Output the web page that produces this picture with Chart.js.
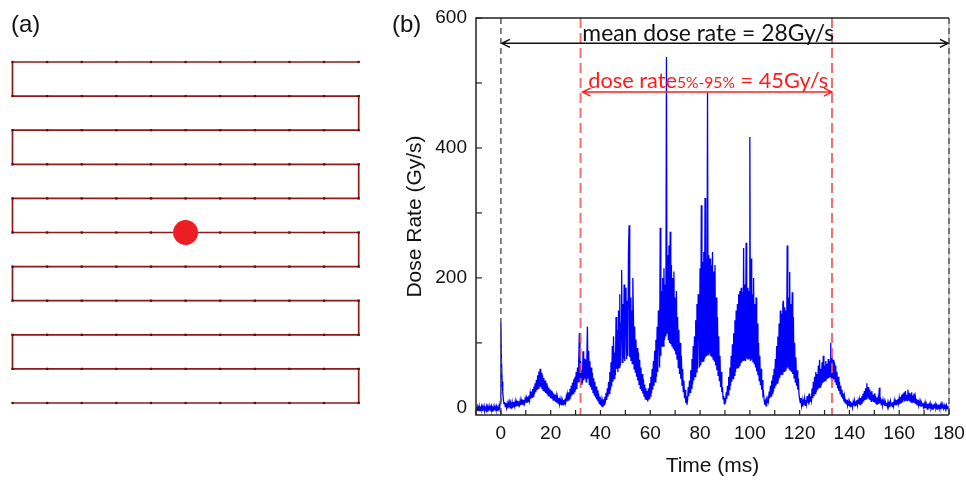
<!DOCTYPE html>
<html>
<head>
<meta charset="utf-8">
<script src="https://cdn.jsdelivr.net/npm/chart.js@4.4.1/dist/chart.umd.min.js"></script>
<style>
  html, body { margin: 0; padding: 0; background: #fff; }
  body { width: 966px; height: 481px; position: relative; overflow: hidden; font-family: "Liberation Sans", Arial, sans-serif; }
  .panel-tag { position: absolute; font-size: 24px; line-height: 1; color: #111; z-index: 2; }
  #scanBox { position: absolute; left: 0; top: 0; width: 390px; height: 481px; }
  #doseBox { position: absolute; left: 390px; top: 0; width: 576px; height: 481px; }
</style>
</head>
<body>
<div id="scanBox"><canvas id="scanChart" width="390" height="481"></canvas></div>
<div id="doseBox"><canvas id="doseChart" width="576" height="481"></canvas></div>
<div class="panel-tag" style="left:11px;top:12px">(a)</div>
<div class="panel-tag" style="left:392px;top:12px">(b)</div>
<script>
// --- panel (a): raster scan grid ---
const scanColumns = [0, 1, 2, 3, 4, 5, 6, 7, 8, 9, 10];
const scanRows = [0, 1, 2, 3, 4, 5, 6, 7, 8, 9, 10];
const beamSpot = [{ x: 5, y: 5 }];

// --- panel (b): dose rate trace, one sample every 0.25 ms from -10 ms ---
const sampleStartMs = -10;
const sampleStepMs = 0.25;
const doseRate = [
    -3, 2, -4, 1, -2, 3, -5, 0, -3, 2, -4, 1, -2, 3, -4, 0, -3, 2, -5, 1,
    -2, 3, -4, 1, -3, 2, -5, 0, -2, 3, -4, 1, -3, 2, -4, 0, -2, 3, -1, 10,
    131, 70, 40, 25, 12, 6, 9, 2, 7, 0, 6, -1, 7, 1, 8, 0, 6, 2, 9, 1,
    2, 9, 3, 10, 2, 9, 4, 11, 3, 10, 5, 12, 4, 11, 6, 13, 5, 12, 7, 14,
    8, 15, 9, 17, 10, 19, 12, 22, 14, 25, 16, 29, 18, 33, 21, 38, 24, 43, 27, 50,
    30, 56, 33, 60, 32, 54, 29, 50, 27, 46, 25, 42, 23, 38, 21, 34, 19, 31, 17, 28,
    15, 26, 14, 24, 12, 22, 11, 20, 9, 18, 8, 16, 7, 15, 6, 13, 5, 12, 4, 11,
    5, 12, 6, 14, 8, 17, 10, 20, 12, 24, 14, 29, 16, 34, 19, 39, 22, 44, 25, 48,
    27, 55, 29, 62, 40, 70, 115, 40, 72, 36, 58, 38, 87, 42, 76, 45, 74, 40, 70, 125,
    46, 88, 36, 72, 32, 62, 28, 54, 24, 46, 20, 40, 16, 33, 13, 27, 10, 22, 7, 17,
    4, 12, 2, 10, 1, 13, 5, 17, 8, 23, 12, 30, 17, 40, 22, 55, 27, 70, 33, 95,
    40, 110, 45, 85, 50, 140, 60, 120, 55, 150, 62, 175, 65, 130, 212, 70, 160, 75, 190, 72,
    150, 185, 75, 165, 80, 240, 281, 78, 170, 72, 150, 68, 200, 140, 60, 125, 55, 105, 48, 92,
    42, 85, 36, 74, 30, 62, 26, 52, 22, 44, 18, 36, 14, 30, 12, 26, 10, 30, 14, 38,
    18, 48, 22, 60, 28, 72, 34, 88, 40, 105, 48, 125, 55, 150, 131, 62, 277, 80, 180, 95,
    200, 95, 215, 105, 190, 110, 540, 115, 235, 105, 250, 100, 271, 98, 220, 95, 200, 92, 210, 88,
    170, 82, 180, 75, 140, 62, 120, 52, 100, 45, 80, 35, 60, 25, 42, 15, 28, 8, 18, 5,
    12, 32, 18, 42, 24, 58, 30, 75, 36, 95, 42, 110, 48, 135, 55, 160, 60, 175, 146, 62,
    215, 65, 312, 70, 225, 72, 240, 75, 323, 78, 230, 80, 485, 82, 235, 84, 230, 80, 220, 78,
    240, 75, 210, 72, 220, 65, 170, 58, 140, 50, 110, 42, 80, 32, 55, 24, 32, 14, 18, 6,
    15, 8, 24, 14, 34, 20, 48, 28, 62, 34, 80, 40, 98, 45, 115, 50, 135, 55, 150, 60,
    160, 62, 175, 65, 180, 68, 185, 70, 178, 72, 246, 74, 190, 72, 254, 76, 185, 74, 180, 76,
    417, 72, 230, 74, 175, 70, 200, 68, 160, 62, 170, 56, 130, 50, 100, 42, 80, 35, 60, 28,
    43, 20, 23, 12, 5, 10, 3, 12, 8, 18, 12, 25, 15, 34, 18, 42, 22, 50, 25, 60,
    30, 75, 34, 95, 38, 110, 42, 130, 46, 150, 50, 145, 52, 160, 165, 56, 155, 58, 150, 60,
    250, 62, 170, 60, 209, 58, 160, 55, 178, 52, 140, 46, 100, 40, 78, 34, 58, 28, 45, 20,
    20, 8, 15, 4, 12, 2, 10, 5, 14, 4, 12, 6, 18, 8, 15, 5, 22, 10, 18, 12,
    30, 15, 40, 18, 48, 22, 55, 25, 52, 28, 65, 30, 74, 32, 60, 35, 70, 38, 80, 40,
    65, 42, 72, 44, 68, 45, 75, 46, 72, 48, 100, 45, 80, 42, 74, 44, 70, 40, 65, 36,
    55, 30, 48, 26, 40, 22, 34, 18, 28, 14, 22, 10, 18, 8, 14, 6, 12, 4, 10, 3,
    9, 2, 10, 3, 8, 1, 9, 4, 11, 3, 10, 5, 12, 4, 11, 6, 13, 5, 15, 7,
    18, 8, 22, 10, 26, 12, 30, 14, 38, 16, 32, 14, 28, 12, 24, 10, 26, 11, 20, 9,
    22, 8, 18, 6, 16, 5, 14, 6, 31, 7, 16, 5, 13, 4, 12, 5, 10, 3, 9, 4,
    8, 2, 9, 3, 7, 1, 10, 4, 8, 2, 9, 3, 11, 4, 10, 5, 12, 6, 14, 7,
    15, 6, 17, 8, 20, 10, 22, 12, 24, 10, 26, 12, 20, 11, 28, 12, 23, 10, 21, 9,
    24, 9, 19, 8, 22, 7, 16, 6, 14, 5, 12, 4, 10, 3, 9, 2, 8, 3, 7, 1,
    6, -1, 7, 0, 5, -2, 6, 1, 5, -1, 6, 0, 4, -2, 5, 0, 4, -1, 5, 0,
    4, -2, 5, 0, 3, -1, 4, -2, 5, 0, 3, -1, 4, -2, 3, 0, 4, -1, 3, -2,
    2
];

const xTickValues = [-10, 0, 10, 20, 30, 40, 50, 60, 70, 80, 90, 100, 110, 120, 130, 140, 150, 160, 170, 180];
const xLabelValues = [0, 20, 40, 60, 80, 100, 120, 140, 160, 180];
const yTickValues = [0, 100, 200, 300, 400, 500, 600];
const yLabelValues = [0, 200, 400, 600];

const referenceTimes = [0, 180];   // irradiation start / end
const windowTimes = [32, 133];     // 5%-95% dose window
const meanLabel = 'mean dose rate = 28Gy/s';
const windowLabel = ['dose rate', '5%-95%', ' = 45Gy/s'];

// serpentine path: even rows right->left, odd rows left->right
const scanPath = scanRows.flatMap((r, i) => {
    const cols = i % 2 === 0 ? [...scanColumns].reverse() : scanColumns;
    return cols.map(c => ({ x: c, y: r }));
});

new Chart(document.getElementById('scanChart'), {
    type: 'scatter',
    data: {
        datasets: [
            { data: beamSpot, pointRadius: 12.5, pointBackgroundColor: '#ee1d23', pointBorderWidth: 0, order: 0, clip: false },
            {
                data: scanPath, showLine: true, borderColor: '#8e1b1b', borderWidth: 1.7,
                pointStyle: 'rect', pointRadius: 1.6, pointBackgroundColor: '#5e0b0b', pointBorderWidth: 0,
                order: 1, clip: false
            }
        ]
    },
    options: {
        responsive: false, devicePixelRatio: 1, animation: false, events: [],
        layout: { padding: { left: 10.7, right: 31.3, top: 62, bottom: 78 } },
        plugins: { legend: { display: false }, tooltip: { enabled: false } },
        scales: {
            x: { type: 'linear', display: false, min: 0, max: 10 },
            y: { type: 'linear', display: false, min: 0, max: 10, reverse: true }
        }
    }
});

// --- helpers for panel (b) decorations ---
function fitSize(ctx, text, family, target) {
    ctx.font = `100px ${family}`;
    return 100 * target / ctx.measureText(text).width;
}

function drawArrow(ctx, x1, x2, y, color) {
    ctx.save();
    ctx.strokeStyle = color;
    ctx.lineWidth = 1.5;
    ctx.setLineDash([]);
    ctx.beginPath();
    ctx.moveTo(x1, y); ctx.lineTo(x2, y);
    ctx.moveTo(x1 + 8, y - 4); ctx.lineTo(x1, y); ctx.lineTo(x1 + 8, y + 4);
    ctx.moveTo(x2 - 8, y - 4); ctx.lineTo(x2, y); ctx.lineTo(x2 - 8, y + 4);
    ctx.stroke();
    ctx.restore();
}

const doseDecor = {
    id: 'doseDecor',
    afterDatasetsDraw(chart) {
        const { ctx, chartArea: a, scales: { x, y } } = chart;
        ctx.save();

        // right edge under the dashed end marker
        ctx.strokeStyle = '#999';
        ctx.lineWidth = 1;
        ctx.beginPath(); ctx.moveTo(a.right, a.top); ctx.lineTo(a.right, a.bottom); ctx.stroke();

        // dashed markers
        ctx.lineWidth = 1.5;
        ctx.strokeStyle = '#5a5a5a';
        ctx.setLineDash([6, 4]);
        referenceTimes.forEach(t => {
            const px = x.getPixelForValue(t);
            ctx.beginPath(); ctx.moveTo(px, a.top); ctx.lineTo(px, a.bottom); ctx.stroke();
        });
        ctx.lineWidth = 2;
        ctx.strokeStyle = 'rgba(245,85,85,0.85)';
        ctx.setLineDash([10, 5]);
        windowTimes.forEach(t => {
            const px = x.getPixelForValue(t);
            ctx.beginPath(); ctx.moveTo(px, a.top); ctx.lineTo(px, a.bottom); ctx.stroke();
        });
        ctx.setLineDash([]);

        // frame
        ctx.strokeStyle = '#222';
        ctx.lineWidth = 1.5;
        ctx.beginPath();
        ctx.moveTo(a.right, a.top); ctx.lineTo(a.left, a.top);
        ctx.lineTo(a.left, a.bottom); ctx.lineTo(a.right, a.bottom);
        ctx.stroke();

        // inward ticks
        ctx.lineWidth = 1.2;
        yTickValues.forEach(v => {
            const py = y.getPixelForValue(v);
            ctx.beginPath(); ctx.moveTo(a.left, py); ctx.lineTo(a.left + 6, py); ctx.stroke();
        });
        xTickValues.forEach(v => {
            const px = x.getPixelForValue(v);
            ctx.beginPath(); ctx.moveTo(px, a.bottom); ctx.lineTo(px, a.bottom - 5); ctx.stroke();
        });

        // mean dose rate arrow + label
        const meanY = y.getPixelForValue(561);
        drawArrow(ctx, x.getPixelForValue(referenceTimes[0]) + 1, x.getPixelForValue(referenceTimes[1]) - 1, meanY, '#111');
        const fam = 'Lato, "Open Sans", sans-serif';
        const centerX = x.getPixelForValue(83.3);
        ctx.fillStyle = '#111';
        ctx.textAlign = 'center';
        ctx.textBaseline = 'alphabetic';
        ctx.font = `${fitSize(ctx, meanLabel, fam, 252)}px ${fam}`;
        ctx.fillText(meanLabel, centerX, meanY - 2.5);

        // 5%-95% window arrow + label
        const winY = y.getPixelForValue(486);
        drawArrow(ctx, x.getPixelForValue(windowTimes[0]) + 2, x.getPixelForValue(windowTimes[1]), winY, '#ff1f1f');
        const mainSize = fitSize(ctx, windowLabel[0] + windowLabel[2], fam, 182);
        const subSize = fitSize(ctx, windowLabel[1], fam, 58);
        ctx.font = `${mainSize}px ${fam}`;
        const w0 = ctx.measureText(windowLabel[0]).width;
        const w2 = ctx.measureText(windowLabel[2]).width;
        ctx.font = `${subSize}px ${fam}`;
        const w1 = ctx.measureText(windowLabel[1]).width;
        let tx = centerX - (w0 + w1 + w2) / 2;
        const base = winY - 4;
        ctx.textAlign = 'left';
        ctx.fillStyle = '#ff1a1a';
        ctx.font = `${mainSize}px ${fam}`;
        ctx.fillText(windowLabel[0], tx, base);
        tx += w0;
        ctx.font = `${subSize}px ${fam}`;
        ctx.fillText(windowLabel[1], tx, base);
        tx += w1;
        ctx.font = `${mainSize}px ${fam}`;
        ctx.fillText(windowLabel[2], tx, base);

        ctx.restore();
    }
};

const dosePoints = doseRate.map((v, i) => ({ x: sampleStartMs + i * sampleStepMs, y: v }));

new Chart(document.getElementById('doseChart'), {
    type: 'line',
    data: {
        datasets: [{
            label: 'Dose Rate',
            data: dosePoints,
            borderColor: '#0000ff',
            borderWidth: 1.3,
            pointRadius: 0,
            tension: 0,
            fill: false
        }]
    },
    options: {
        responsive: false, devicePixelRatio: 1, animation: false, events: [],
        layout: { padding: { left: 0, top: 18, right: 17, bottom: 0 } },
        plugins: { legend: { display: false }, tooltip: { enabled: false } },
        scales: {
            x: {
                type: 'linear', min: -10, max: 180,
                grid: { display: false, drawTicks: false },
                border: { display: false },
                afterBuildTicks: s => { s.ticks = xTickValues.map(v => ({ value: v })); },
                afterFit: s => { s.height = 66; s.paddingLeft = 0; s.paddingRight = 0; },
                ticks: {
                    autoSkip: false, maxRotation: 0, padding: 7, color: '#111',
                    font: { family: '"Liberation Sans", Arial, sans-serif', size: 19 },
                    callback: v => xLabelValues.includes(v) ? String(v) : ''
                },
                title: {
                    display: true, text: 'Time (ms)', color: '#111',
                    font: { family: '"Liberation Sans", Arial, sans-serif', size: 21 },
                    padding: { top: 0, bottom: 2 }
                }
            },
            y: {
                type: 'linear', min: -11, max: 600,
                grid: { display: false, drawTicks: false },
                border: { display: false },
                afterBuildTicks: s => { s.ticks = yTickValues.map(v => ({ value: v })); },
                afterFit: s => { s.width = 86; s.paddingTop = 0; s.paddingBottom = 0; },
                ticks: {
                    padding: 9, color: '#111',
                    font: { family: '"Liberation Sans", Arial, sans-serif', size: 19 },
                    callback: v => yLabelValues.includes(v) ? String(v) : ''
                },
                title: {
                    display: true, text: 'Dose Rate (Gy/s)', color: '#111',
                    font: { family: '"Liberation Sans", Arial, sans-serif', size: 21 },
                    padding: { top: 13, bottom: 0 }
                }
            }
        }
    },
    plugins: [doseDecor]
});
</script>
</body>
</html>
